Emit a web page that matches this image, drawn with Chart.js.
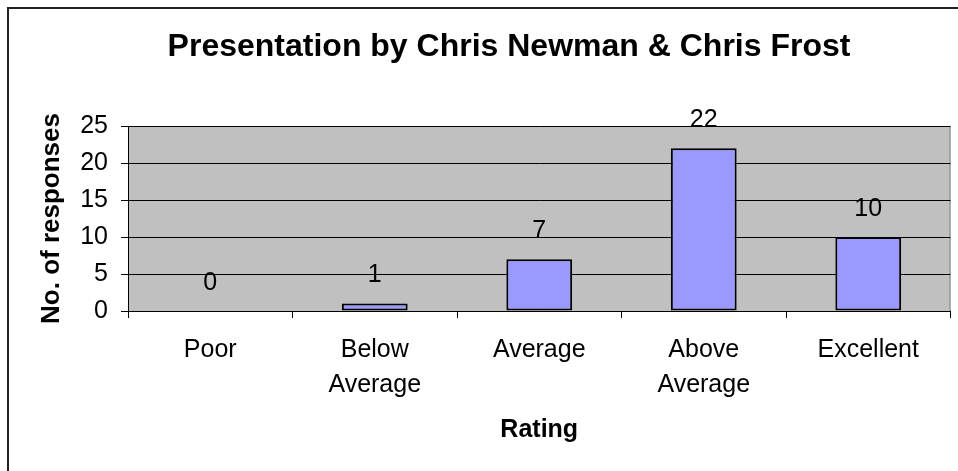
<!DOCTYPE html>
<html>
<head>
<meta charset="utf-8">
<script src="https://cdn.jsdelivr.net/npm/chart.js@4.4.0/dist/chart.umd.min.js"></script>
<style>
  body { margin: 0; background: #fff; }
  #wrap { width: 958px; height: 471px; overflow: hidden; }
</style>
</head>
<body>
<div id="wrap"><canvas id="chart" width="958" height="471"></canvas></div>
<script>
// data
const categories = [["Poor"], ["Below", "Average"], ["Average"], ["Above", "Average"], ["Excellent"]];
const responses = [0, 1, 7, 22, 10];
const yMin = 0;
const yMax = 25;
const yStep = 5;

const FONT = "'Liberation Sans', Arial, sans-serif";

// outer chart frame (only its left and top edges fall inside the picture)
const frame = {
  id: "frame",
  beforeDraw(chart) {
    const ctx = chart.ctx;
    ctx.save();
    ctx.fillStyle = "#fff";
    ctx.fillRect(0, 0, chart.width, chart.height);
    ctx.fillStyle = "#222";
    ctx.fillRect(7, 7, chart.width, 2);
    ctx.fillRect(7, 7, 2, chart.height);
    ctx.restore();
  },
};

// grey plot area like the old Excel charts
const plotArea = {
  id: "plotArea",
  beforeDraw(chart) {
    const { ctx, chartArea: a } = chart;
    ctx.save();
    ctx.fillStyle = "#c0c0c0";
    ctx.fillRect(a.left, a.top, a.right - a.left, a.bottom - a.top);
    ctx.strokeStyle = "#808080";
    ctx.lineWidth = 1;
    ctx.beginPath();
    ctx.moveTo(a.left, a.top + 0.5);
    ctx.lineTo(a.right - 0.5, a.top + 0.5);
    ctx.lineTo(a.right - 0.5, a.bottom);
    ctx.stroke();
    ctx.restore();
  },
};

// value above each bar
const valueLabels = {
  id: "valueLabels",
  afterDatasetsDraw(chart) {
    const ctx = chart.ctx;
    const meta = chart.getDatasetMeta(0);
    ctx.save();
    ctx.font = "25px " + FONT;
    ctx.fillStyle = "#000";
    ctx.textAlign = "center";
    ctx.textBaseline = "middle";
    meta.data.forEach((bar, i) => {
      ctx.fillText(String(responses[i]), bar.x, bar.y - 28);
    });
    ctx.restore();
  },
};

new Chart(document.getElementById("chart"), {
  type: "bar",
  data: {
    labels: categories,
    datasets: [
      {
        data: responses,
        backgroundColor: "#9999ff",
        borderColor: "#000",
        borderWidth: 2,
        borderSkipped: false,
        barPercentage: 0.4,
        categoryPercentage: 1,
      },
    ],
  },
  options: {
    responsive: false,
    animation: false,
    layout: { padding: { left: 67.5, right: 7.5, top: 28, bottom: 26 } },
    plugins: {
      legend: { display: false },
      tooltip: { enabled: false },
      title: {
        display: true,
        text: "Presentation by Chris Newman & Chris Frost",
        color: "#000",
        font: { family: FONT, size: 32, weight: "bold" },
        padding: { top: 0, bottom: 59.6 },
      },
    },
    scales: {
      x: {
        offset: true,
        grid: {
          offset: true,
          drawOnChartArea: false,
          drawTicks: true,
          tickLength: 7,
          color: "#000",
        },
        border: { display: true, color: "#000", width: 1 },
        ticks: {
          color: "#000",
          padding: 15,
          maxRotation: 0,
          font: { family: FONT, size: 25, lineHeight: "35px" },
        },
        title: {
          display: true,
          text: "Rating",
          color: "#000",
          font: { family: FONT, size: 25, weight: "bold" },
          padding: { top: 0, bottom: 0 },
        },
        afterFit(s) {
          s.height = 134;
        },
      },
      y: {
        min: yMin,
        max: yMax,
        grid: {
          color: "#000",
          drawTicks: true,
          tickLength: 7,
        },
        border: { display: true, color: "#000", width: 1 },
        ticks: {
          stepSize: yStep,
          color: "#000",
          padding: 13,
          font: { family: FONT, size: 25 },
        },
        title: {
          display: true,
          text: "No. of responses",
          color: "#000",
          font: { family: FONT, size: 26, weight: "bold" },
          padding: { top: -31, bottom: 0 },
        },
        afterFit(s) {
          s.width = 60.5;
        },
      },
    },
  },
  plugins: [frame, plotArea, valueLabels],
});
</script>
</body>
</html>
